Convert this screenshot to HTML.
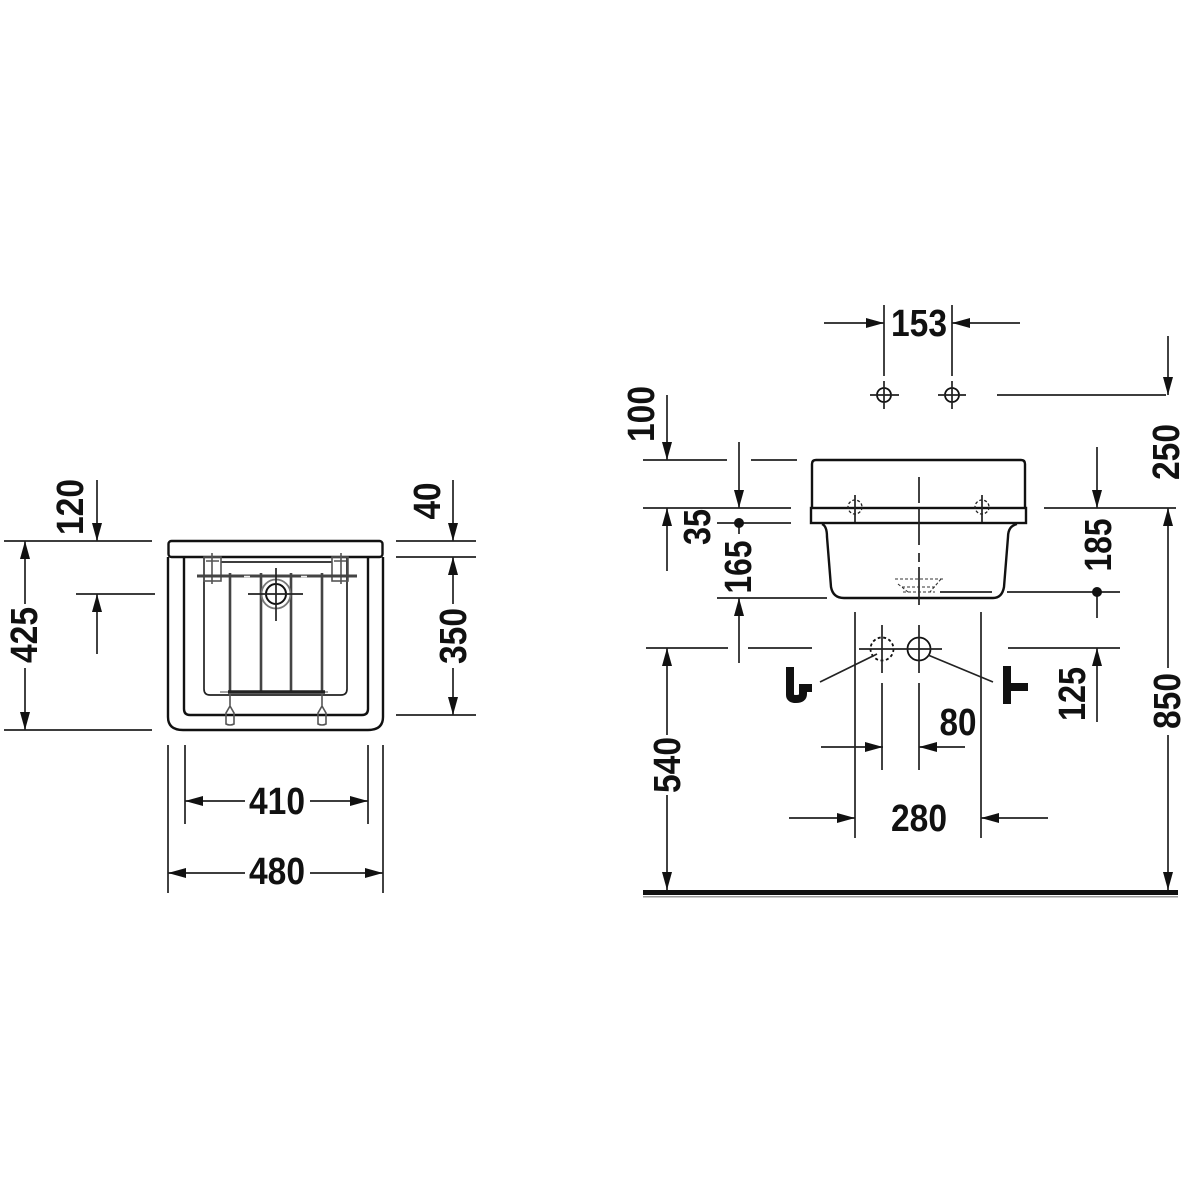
<!DOCTYPE html>
<html><head><meta charset="utf-8"><style>
html,body{margin:0;padding:0;background:#fff}
svg{display:block}
text{font-family:"Liberation Sans",Arial,sans-serif;font-weight:bold;font-size:38px;fill:#111;text-anchor:middle;dominant-baseline:alphabetic}
.l{stroke:#222;stroke-width:1.7;fill:none}
.g{stroke:#555;stroke-width:1.6;fill:none}
.k{stroke:#111;stroke-width:2.4;fill:none}
</style></head><body>
<svg width="1200" height="1200" viewBox="0 0 1200 1200" xmlns="http://www.w3.org/2000/svg">
<defs><polygon id="a" points="0,0 -18,-5 -18,5" fill="#111"/></defs>
<rect width="1200" height="1200" fill="#fff"/>

<!-- LEFT VIEW -->
<path class="k" d="M168,557V717Q168,730 183,730H368Q383,730 383,717V557"/>
<rect class="k" x="168.500" y="541" width="214" height="16" rx="3"/>
<path class="k" d="M184,557V709Q184,715 190,715H362Q368,715 368,709V557"/>
<path class="l" d="M204,557V689Q204,695 210,695H341Q347,695 347,689V557"/>
<path class="l" d="M221,562H332"/>
<rect class="g" x="204" y="557" width="17" height="24" fill="#eee"/>
<rect class="g" x="332" y="557" width="16" height="24" fill="#eee"/>
<path class="g" d="M212,553V584M341,553V584M206,561H219M334,561H346"/>
<path d="M197,576H357" stroke="#444" stroke-width="3" fill="none"/>
<path d="M244,576.500h6M301,576.500h6" stroke="#eee" stroke-width="1.600"/>
<path d="M230,573V693M261,573V693M291,573V693M322,573V693" stroke="#444" stroke-width="2.600" fill="none"/>
<path d="M220,692H328" stroke="#888" stroke-width="1.500"/>
<path d="M228,692H325" stroke="#222" stroke-width="3.500"/>
<circle cx="276" cy="594" r="14.500" fill="#fff" stroke="#777" stroke-width="1.800"/>
<circle cx="276" cy="594" r="10" fill="#fff" stroke="#111" stroke-width="2"/>
<path class="l" d="M248,594H303M276,568V621"/>
<path class="g" d="M230,693V706L226,713V724Q230,726 234,724V713L230,706M322,693V706L318,713V724Q322,726 326,724V713L322,706"/>

<!-- left dimension lines -->
<path class="l" d="M4,541H152M4,730H152M76,594H155M396,541H476M396,557H476M396,715H476"/>
<path class="l" d="M97,480V541M97,594V654M25,541V604M25,668V730M453,480V541M453,557V604M453,668V715"/>
<path class="l" d="M185,745V824M368,745V824M168,745V893M383,745V893"/>
<path class="l" d="M185,801H245M310,801H368M168,873H245M310,873H383"/>
<use href="#a" transform="translate(97,541) rotate(90)"/>
<use href="#a" transform="translate(97,594) rotate(-90)"/>
<use href="#a" transform="translate(25,541) rotate(-90)"/>
<use href="#a" transform="translate(25,730) rotate(90)"/>
<use href="#a" transform="translate(453,541) rotate(90)"/>
<use href="#a" transform="translate(453,557) rotate(-90)"/>
<use href="#a" transform="translate(453,715) rotate(90)"/>
<use href="#a" transform="translate(185,801) rotate(180)"/>
<use href="#a" transform="translate(368,801)"/>
<use href="#a" transform="translate(168,873) rotate(180)"/>
<use href="#a" transform="translate(383,873)"/>
<text transform="translate(83,507) rotate(-90)" textLength="56" lengthAdjust="spacingAndGlyphs">120</text>
<text transform="translate(37,635) rotate(-90)" textLength="56" lengthAdjust="spacingAndGlyphs">425</text>
<text transform="translate(440,501) rotate(-90)" textLength="37" lengthAdjust="spacingAndGlyphs">40</text>
<text transform="translate(466,636) rotate(-90)" textLength="56" lengthAdjust="spacingAndGlyphs">350</text>
<text x="277" y="814" textLength="56" lengthAdjust="spacingAndGlyphs">410</text>
<text x="277" y="884" textLength="56" lengthAdjust="spacingAndGlyphs">480</text>

<!-- RIGHT VIEW: sink -->
<path class="k" d="M812,508V464Q812,460 816,460H1021Q1025,460 1025,464V508"/>
<rect class="k" x="811" y="508" width="215" height="15"/>
<path class="k" d="M822,524Q827,526 827,537L831,587Q833,598 844,598H993Q1002,598 1004,587L1008,537Q1008,526 1017,524"/>
<path class="l" d="M919,477V503M919,508V545M919,553V562M919,567V605" />
<path class="l" d="M855,495V522M982,495V522"/>
<circle cx="855" cy="507" r="7" fill="none" stroke="#222" stroke-width="1.300" stroke-dasharray="3 2"/>
<circle cx="982" cy="507" r="7" fill="none" stroke="#222" stroke-width="1.300" stroke-dasharray="3 2"/>
<path d="M895,579H943M898,584L908,592M941,579L930,592M902,587H936M903,592H935" stroke="#333" stroke-width="1.100" stroke-dasharray="3 2" fill="none"/>

<!-- top holes -->
<circle cx="884" cy="395" r="7" fill="none" stroke="#111" stroke-width="1.800"/>
<circle cx="952" cy="395" r="7" fill="none" stroke="#111" stroke-width="1.800"/>
<path class="l" d="M870,395H899M884,381V409M938,395H966M952,381V409"/>

<!-- drain/water -->
<circle cx="882" cy="649" r="11.500" fill="none" stroke="#111" stroke-width="1.800" stroke-dasharray="3 2.500"/>
<circle cx="919" cy="649" r="11.500" fill="none" stroke="#111" stroke-width="1.800"/>
<path class="l" d="M859,649H942M882,625V673M919,625V673M882,683V770M919,683V770"/>
<path class="l" d="M820,682L877,654M993,682L928,655"/>
<path d="M790,667V695Q790,699 796,699Q803,699 803,694V688H812" fill="none" stroke="#111" stroke-width="8"/>
<path d="M1007,666V704M1007,687H1028" fill="none" stroke="#111" stroke-width="8"/>

<!-- right dimension lines -->
<path class="l" d="M884,305V376M952,305V376M824,323H884M952,323H1020"/>
<use href="#a" transform="translate(884,323)"/>
<use href="#a" transform="translate(952,323) rotate(180)"/>
<text x="919" y="336" textLength="56" lengthAdjust="spacingAndGlyphs">153</text>
<path class="l" d="M997,395H1166M1168,336V395M1168,508V668M1168,735V890"/>
<use href="#a" transform="translate(1168,395) rotate(90)"/>
<use href="#a" transform="translate(1168,508) rotate(-90)"/>
<use href="#a" transform="translate(1168,890) rotate(90)"/>
<text transform="translate(1179,452) rotate(-90)" textLength="56" lengthAdjust="spacingAndGlyphs">250</text>
<text transform="translate(1180,701) rotate(-90)" textLength="56" lengthAdjust="spacingAndGlyphs">850</text>

<path class="l" d="M643,460H727M751,460H797M643,508H791M717,523H791M1044,508H1176"/>
<path class="l" d="M667,395V460M667,508V571M739,442V508M739,523V534M739,598V663"/>
<use href="#a" transform="translate(667,460) rotate(90)"/>
<use href="#a" transform="translate(667,508) rotate(-90)"/>
<use href="#a" transform="translate(739,508) rotate(90)"/>
<use href="#a" transform="translate(739,598) rotate(-90)"/>
<circle cx="739" cy="523" r="5" fill="#111"/>
<text transform="translate(654,414) rotate(-90)" textLength="56" lengthAdjust="spacingAndGlyphs">100</text>
<text transform="translate(710,527) rotate(-90)" textLength="36" lengthAdjust="spacingAndGlyphs">35</text>
<text transform="translate(751,567) rotate(-90)" textLength="53" lengthAdjust="spacingAndGlyphs">165</text>

<path class="l" d="M717,598H827M1007,592H1120M940,592H992M646,648H728M748,648H812M1008,648H1120"/>
<path class="l" d="M1097,447V508M1097,592V618M1097,648V722"/>
<use href="#a" transform="translate(1097,508) rotate(90)"/>
<use href="#a" transform="translate(1097,648) rotate(-90)"/>
<circle cx="1097" cy="592" r="5" fill="#111"/>
<text transform="translate(1111,545) rotate(-90)" textLength="53" lengthAdjust="spacingAndGlyphs">185</text>
<text transform="translate(1085,694) rotate(-90)" textLength="54" lengthAdjust="spacingAndGlyphs">125</text>

<path class="l" d="M667,648V735M667,795V890"/>
<use href="#a" transform="translate(667,648) rotate(-90)"/>
<use href="#a" transform="translate(667,890) rotate(90)"/>
<text transform="translate(680,765) rotate(-90)" textLength="56" lengthAdjust="spacingAndGlyphs">540</text>

<path class="l" d="M855,612V838M981,612V838"/>
<path class="l" d="M821,747H883M919,747H965M789,818H855M981,818H1048"/>
<use href="#a" transform="translate(883,747)"/>
<use href="#a" transform="translate(919,747) rotate(180)"/>
<use href="#a" transform="translate(855,818)"/>
<use href="#a" transform="translate(981,818) rotate(180)"/>
<text x="958" y="735" textLength="37" lengthAdjust="spacingAndGlyphs">80</text>
<text x="919" y="831" textLength="56" lengthAdjust="spacingAndGlyphs">280</text>

<!-- floor -->
<rect x="643" y="890" width="535" height="5" fill="#111"/>
<rect x="643" y="896" width="535" height="1.500" fill="#999"/>
</svg>
</body></html>
